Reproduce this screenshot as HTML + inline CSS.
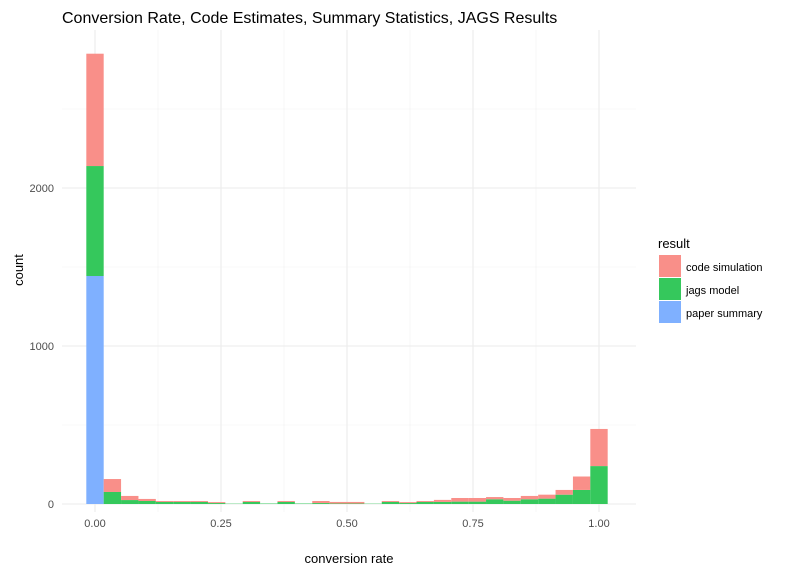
<!DOCTYPE html>
<html><head><meta charset="utf-8"><style>
body{margin:0;background:#fff;font-family:"Liberation Sans",Arial,sans-serif}
</style></head><body>
<svg id="chart" width="788" height="570" xmlns="http://www.w3.org/2000/svg">
<rect width="788" height="570" fill="#fff"/>
<text x="62" y="23" font-size="16" fill="#000">Conversion Rate, Code Estimates, Summary Statistics, JAGS Results</text>
<g id="grid"></g>
<g id="bars"></g>
<g id="axes"></g>
<text x="349" y="563" font-size="13" text-anchor="middle" fill="#000">conversion rate</text>
<text transform="translate(23,270) rotate(-90)" font-size="13" text-anchor="middle" fill="#000">count</text>
<g>
<text x="658" y="248" font-size="13" fill="#000">result</text>
<rect x="659" y="255" width="22" height="22" fill="rgb(249,143,137)"/>
<text x="686" y="271" font-size="11" fill="#000">code simulation</text>
<rect x="659" y="278" width="22" height="22" fill="rgb(53,200,92)"/>
<text x="686" y="294" font-size="11" fill="#000">jags model</text>
<rect x="659" y="301" width="22" height="22" fill="rgb(127,176,255)"/>
<text x="686" y="317" font-size="11" fill="#000">paper summary</text>
</g>
</svg>
<script>
const paperCounts=[1443,0,0,0,0,0,0,0,0,0,0,0,0,0,0,0,0,0,0,0,0,0,0,0,0,0,0,0,0,0];
const jagsCounts=[696,76,25,19,13,13,13,6,2,13,3,13,3,6,3,3,2,13,6,13,13,15,15,30,21,30,34,59,89,240];
const codeCounts=[711,82,26,13,6,6,6,6,0,6,0,6,0,13,10,10,0,6,6,6,13,23,23,14,17,21,25,30,85,235];
const xTicks=[0,0.25,0.5,0.75,1];
const xTickLabels=["0.00","0.25","0.50","0.75","1.00"];
const yTicks=[0,1000,2000];
const yTickLabels=["0","1000","2000"];
const NS="http://www.w3.org/2000/svg";
const X=v=>95+504*v, Y=v=>504-0.158*v;
const L=62,R=636,T=30,B=512;
const bw=1/29;
function mk(tag,attrs,parent){const e=document.createElementNS(NS,tag);for(const k in attrs)e.setAttribute(k,attrs[k]);parent.appendChild(e);return e;}
const grid=document.getElementById('grid'),bars=document.getElementById('bars'),axes=document.getElementById('axes');
for(let i=0;i<xTicks.length;i++){
 const l=mk('line',{x1:X(xTicks[i]),x2:X(xTicks[i]),y1:T,y2:B,stroke:'#ebebeb','stroke-width':1.1},grid);
 
 
 if(i<xTicks.length-1){const m=(xTicks[i]+xTicks[i+1])/2;
  const ml=mk('line',{x1:X(m),x2:X(m),y1:T,y2:B,stroke:'#f2f2f2','stroke-width':0.6},grid);
  
  }
 const t=mk('text',{x:X(xTicks[i]),y:527,'font-size':11,'text-anchor':'middle',fill:'#4d4d4d'},axes);
 t.textContent=xTickLabels[i];
 
 
}
for(let i=0;i<yTicks.length;i++){
 const l=mk('line',{x1:L,x2:R,y1:Y(yTicks[i]),y2:Y(yTicks[i]),stroke:'#ebebeb','stroke-width':1.1},grid);
 
 
 const ml=mk('line',{x1:L,x2:R,y1:Y(yTicks[i]+500),y2:Y(yTicks[i]+500),stroke:'#f2f2f2','stroke-width':0.6},grid);
 
 
 const t=mk('text',{x:54,y:Y(yTicks[i])+4,'font-size':11,'text-anchor':'end',fill:'#4d4d4d'},axes);
 t.textContent=yTickLabels[i];
 
 
}
const series=[[paperCounts,'rgb(127,176,255)','paper'],[jagsCounts,'rgb(53,200,92)','jags'],[codeCounts,'rgb(249,143,137)','code']];
for(let i=0;i<30;i++){
 let base=0;const c=i*bw;
 for(const [arr,col,nm] of series){
  const v=arr[i]; if(v<=0)continue;
  const r=mk('rect',{x:X(c-bw/2),width:X(c+bw/2)-X(c-bw/2),y:Y(base+v),height:Y(base)-Y(base+v),fill:col},bars);
  
  
  base+=v;
 }
}
</script>
</body></html>
